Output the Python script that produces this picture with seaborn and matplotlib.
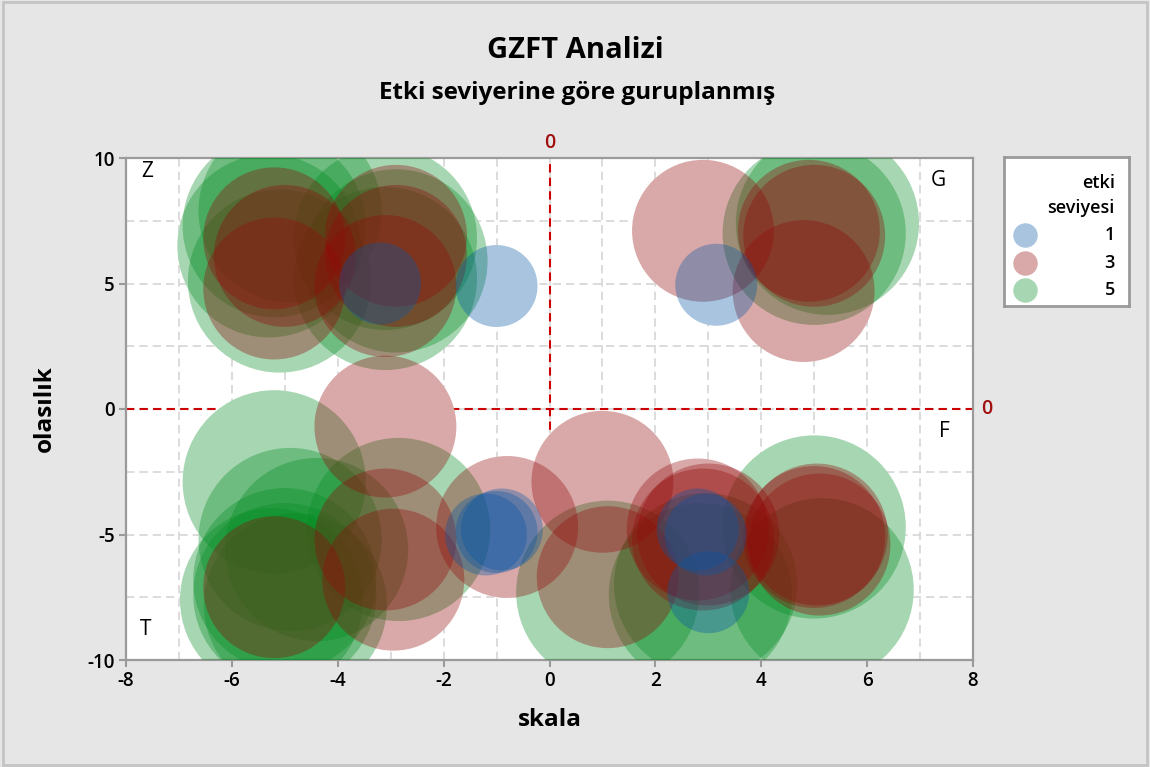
import matplotlib
matplotlib.use("Agg")
import matplotlib.pyplot as plt
import seaborn as sns
import numpy as np
import pandas as pd
from matplotlib.patches import Rectangle

# ---------------- data ----------------
levels = [1, 3, 5]
level_colors = ["#0656a6", "#920909", "#058c23"]

skala_5 = [-5.2, -5.1, -4.9, -5.3, -3.1, -2.9, -3.1,
           5.0, 5.25,
           -5.2, -4.9, -5.0, -5.0, -4.8, -4.4, -2.85, -5.25,
           1.1, 2.85, 2.95, 5.0, 5.15]
olasilik_5 = [7.3, 5.1, 7.9, 6.5, 6.8, 5.9, 5.2,
              7.0, 7.4,
              -2.9, -5.2, -6.8, -7.4, -7.8, -5.6, -4.8, -7.6,
              -7.3, -7.4, -7.0, -4.7, -7.2]

skala_3 = [-5.2, -5.2, -5.0, -2.9, -2.9, -3.1,
           2.9, 4.8, 4.9, 5.0,
           -3.1, -3.1, -2.95, -5.2, -0.8,
           1.0, 1.1, 2.8, 3.0, 2.9, 5.0, 5.05, 5.1]
olasilik_3 = [6.8, 4.8, 6.1, 6.9, 6.1, 4.9,
              7.1, 4.7, 7.1, 6.9,
              -0.7, -5.2, -6.8, -7.1, -4.7,
              -2.9, -6.7, -4.8, -5.0, -5.2, -5.1, -5.0, -5.4]

skala_1 = [-3.2, -1.0, 3.15, -1.2, -0.9, -1.0, 2.8, 2.95, 3.0]
olasilik_1 = [5.0, 4.9, 4.95, -5.0, -4.8, -4.9, -4.8, -5.0, -7.3]

x_ticks = [-8, -6, -4, -2, 0, 2, 4, 6, 8]
y_ticks = [-10, -5, 0, 5, 10]
quadrant_labels = ["Z", "G", "T", "F"]

# ---------------- frame ----------------
df = pd.concat([
    pd.DataFrame({"skala": skala_5, "olasilik": olasilik_5, "etki": 5}),
    pd.DataFrame({"skala": skala_3, "olasilik": olasilik_3, "etki": 3}),
    pd.DataFrame({"skala": skala_1, "olasilik": olasilik_1, "etki": 1}),
], ignore_index=True)

plt.rcParams["font.family"] = ["Open Sans", "DejaVu Sans"]
plt.rcParams["axes.unicode_minus"] = False

W, H = 1150, 767
fig = plt.figure(figsize=(W / 100, H / 100), dpi=100, facecolor="#e6e6e6")
fig.patches.append(Rectangle((0.003, 0.003), 0.994, 0.994, transform=fig.transFigure,
                             fill=False, edgecolor="#c4c4c4", linewidth=2))

L, R, T, B = 126, 973, 158, 660
ax = fig.add_axes([L / W, 1 - B / H, (R - L) / W, (B - T) / H])
ax.set_facecolor("white")

palette = dict(zip(levels, level_colors))
size_map = {1: 3480, 3: 10440, 5: 17400}

# white underlay hides grid/reference lines beneath the bubbles
sns.scatterplot(data=df, x="skala", y="olasilik", size="etki", sizes=size_map,
                color="white", alpha=1, linewidth=0, legend=False, ax=ax, zorder=2)
sns.scatterplot(data=df, x="skala", y="olasilik", hue="etki", size="etki",
                palette=palette, sizes=size_map, alpha=0.35, linewidth=0,
                legend=False, ax=ax, zorder=3)

ax.set_xlim(-8, 8)
ax.set_ylim(-10, 10)
ax.set_xticks(x_ticks)
ax.set_yticks(y_ticks)
ax.set_xticklabels([str(v) for v in x_ticks])
ax.set_yticklabels([str(v) for v in y_ticks])
ax.set_xticks(np.arange(-7, 8, 2), minor=True)
ax.set_yticks([-7.5, -2.5, 2.5, 7.5], minor=True)
ax.set_axisbelow(True)
ax.grid(True, which="both", color="#d6d6d6", linestyle=(0, (5, 3)), linewidth=1.2)
ax.tick_params(which="minor", length=0)
ax.tick_params(which="major", length=5, width=1.5, color="#9a9a9a",
               labelsize=13.5, pad=3)
for lab in ax.get_xticklabels() + ax.get_yticklabels():
    lab.set_fontweight("semibold")
for sp in ax.spines.values():
    sp.set_color("#9a9a9a")
    sp.set_linewidth(1.6)

ax.axvline(0, color="#cc0000", linestyle=(0, (4, 2.5)), linewidth=1.5, zorder=1)
ax.axhline(0, color="#cc0000", linestyle=(0, (4, 2.5)), linewidth=1.5, zorder=1)
ax.text(0, 10.2, "0", color="#a01010", ha="center", va="bottom", fontsize=14,
        fontweight="semibold", clip_on=False)
ax.text(8.15, 0, "0", color="#a01010", ha="left", va="center", fontsize=14,
        fontweight="semibold", clip_on=False)

qpos = [(-7.6, 9.45), (7.35, 9.1), (-7.62, -8.8), (7.45, -0.9)]
for lab, (qx, qy) in zip(quadrant_labels, qpos):
    ax.text(qx, qy, lab, fontsize=15, ha="center", va="center", zorder=5)

ax.set_xlabel("skala", fontsize=17.5, fontweight="bold", labelpad=12)
ax.set_ylabel("olasılık", fontsize=17.5, fontweight="bold", labelpad=22)

fig.text(0.5, 1 - 50 / H, "GZFT Analizi", ha="center", va="center",
         fontsize=21, fontweight="bold")
fig.text(0.502, 1 - 93 / H, "Etki seviyerine göre guruplanmış", ha="center",
         va="center", fontsize=17.5, fontweight="bold")

# legend box
lx0, lx1, ly0, ly1 = 1004, 1129, 157, 306
lax = fig.add_axes([lx0 / W, 1 - ly1 / H, (lx1 - lx0) / W, (ly1 - ly0) / H])
lax.set_xlim(lx0, lx1)
lax.set_ylim(ly1, ly0)
lax.set_xticks([])
lax.set_yticks([])
lax.set_facecolor("white")
for sp in lax.spines.values():
    sp.set_color("#9a9a9a")
    sp.set_linewidth(2)
lax.text(1115, 183, "etki", ha="right", va="center", fontsize=13, fontweight="semibold")
lax.text(1115, 208, "seviyesi", ha="right", va="center", fontsize=13, fontweight="semibold")
for i, (lv, col) in enumerate(zip(levels, level_colors)):
    yy = 235 + i * 27.5
    lax.scatter([1025], [yy], s=310, color=col, alpha=0.35, linewidth=0)
    lax.text(1115, yy, str(lv), ha="right", va="center", fontsize=13, fontweight="semibold")

fig.savefig("out.png", dpi=100, facecolor=fig.get_facecolor())
